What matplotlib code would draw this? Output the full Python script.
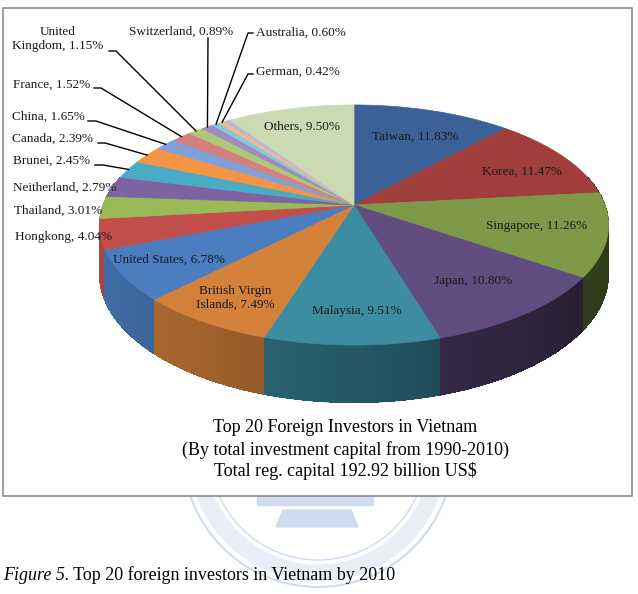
import numpy as np
import matplotlib
matplotlib.use("Agg")
import matplotlib.pyplot as plt
from matplotlib.patches import Polygon, Rectangle, Circle
from matplotlib.collections import PolyCollection

plt.rcParams['font.family'] = ['Liberation Serif', 'DejaVu Serif']

# data, clockwise from 12 o'clock
countries = ["Taiwan", "Korea", "Singapore", "Japan", "Malaysia",
             "British Virgin Islands", "United States", "Hongkong", "Thailand",
             "Neitherland", "Brunei", "Canada", "China", "France",
             "United Kingdom", "Switzerland", "Australia", "German", "", "Others"]
shares = [11.83, 11.47, 11.26, 10.80, 9.51, 7.49, 6.78, 4.04, 3.01, 2.79,
          2.45, 2.39, 1.65, 1.52, 1.15, 0.89, 0.60, 0.42, 0.45, 9.50]
colors = ["#3c6198", "#a03e3c", "#7e9a48", "#614c80", "#3c8ca2", "#d4813c",
          "#4a7ec0", "#c24f4c", "#9aba58", "#7f63a1", "#4aabc5", "#f59445",
          "#7fa0d8", "#d4807e", "#aec87a", "#9d8cbc", "#84c8dc", "#f8b888",
          "#bdb6d8", "#ccdab4"]

title_lines = ["Top 20 Foreign Investors in Vietnam",
               "(By total investment capital from 1990-2010)",
               "Total reg. capital 192.92 billion US$"]
caption_lead = "Figure 5."
caption_rest = " Top 20 foreign investors in Vietnam by 2010"

# ---- layout (pixels, y down) ----
W, H = 638, 594
CX, CY = 354, 205        # projected pie centre
AX, BY = 251, 116.7      # radii at centre depth
K = 1 / 6                # perspective strength
DEPTH = 48               # wall height

wrap = {"British Virgin Islands": "British Virgin\nIslands",
        "United Kingdom": "United\nKingdom"}
label_pos = {
    "Taiwan": (415, 137, "center"), "Korea": (522, 172, "center"),
    "Singapore": (537, 226, "center"), "Japan": (473, 281, "center"),
    "Malaysia": (357, 311, "center"), "British Virgin Islands": (235, 298, "center"),
    "United States": (169, 260, "center"), "Others": (302, 127, "center"),
    "Hongkong": (15, 237, "left"), "Thailand": (14, 211, "left"),
    "Neitherland": (13, 188, "left"), "Brunei": (13, 161, "left"),
    "Canada": (12, 139, "left"), "China": (12, 117, "left"),
    "France": (13, 85, "left"), "United Kingdom": (58, 39, "center"),
    "Switzerland": (129, 32, "left"), "Australia": (256, 33, "left"),
    "German": (256, 72, "left"),
}
# leader start point and elbow x
leaders = {
    "Brunei": (95, 165, 103), "Canada": (98, 143, 105), "China": (88, 121, 96),
    "France": (94, 88, 101), "United Kingdom": (109, 51, 116),
    "Switzerland": (208, 38, 208), "Australia": (253, 33, 248),
    "German": (253, 74, 248),
}


def project(theta, r=1.0, drop=0.0):
    u = r * np.sin(theta)
    v = r * np.cos(theta)
    w = 1 + K * v
    return CX + AX * u / w, CY - BY * v / w + drop / w


def shade(hex_color, f):
    rgb = np.array(matplotlib.colors.to_rgb(hex_color))
    return tuple(np.clip(rgb * f, 0, 1))


fig = plt.figure(figsize=(W / 100, H / 100), dpi=100)
ax = fig.add_axes([0, 0, 1, 1])
ax.set_xlim(0, W)
ax.set_ylim(H, 0)
ax.axis("off")

# faint watermark seal behind the caption
wm = "#cfdcef"
ax.add_patch(Circle((318, 452), 135, fill=False, ec=wm, lw=1.5, zorder=0))
ax.add_patch(Circle((318, 452), 108, fill=False, ec=wm, lw=1.0, zorder=0))
ax.add_patch(Circle((318, 452), 121, fill=False, ec="#e8eef8", lw=12, zorder=0))
ax.add_patch(Rectangle((257, 495), 116, 10, color=wm, zorder=0))
ax.add_patch(Polygon([(283, 510), (351, 510), (358, 527), (276, 527)], color=wm, zorder=0))

# chart frame
ax.add_patch(Rectangle((2.5, 7.5), 629.5, 488.5, fc="white", ec="#8a8a8a", lw=1.2, zorder=1))

fracs = np.array(shares) / 100.0
bounds = np.concatenate([[0], np.cumsum(fracs)]) * 2 * np.pi

# side walls: one smooth underlay per slice, then shaded strips on top
quads, qcols, qdepth = [], [], []
for i, col in enumerate(colors):
    t = np.linspace(bounds[i], bounds[i + 1], max(3, int((bounds[i + 1] - bounds[i]) / 0.01)))
    t = t[np.cos(t) < 0.25]
    if len(t) < 2:
        continue
    top = [project(a) for a in t]
    bot = [project(a, drop=DEPTH) for a in t[::-1]]
    mid = t.mean()
    under = shade(col, 0.62 - 0.26 * np.sin(mid))
    ax.add_patch(Polygon(top + bot, closed=True, fc=under, ec=under, lw=0.5,
                         zorder=2 - 0.5 * np.cos(mid) * 0.01))
    for a, b in zip(t[:-1], t[1:]):
        m = (a + b) / 2
        xa, ya = project(a)
        xb, yb = project(b)
        xa2, ya2 = project(a, drop=DEPTH)
        xb2, yb2 = project(b, drop=DEPTH)
        quads.append([(xa, ya), (xb, yb), (xb2, yb2), (xa2, ya2)])
        qcols.append(shade(col, 0.62 - 0.26 * np.sin(m)))
        qdepth.append(np.cos(m))
order = np.argsort(qdepth)[::-1]
ax.add_collection(PolyCollection([quads[j] for j in order],
                                 facecolors=[qcols[j] for j in order],
                                 edgecolors="none", linewidths=0,
                                 antialiased=False, zorder=2.1))

# top faces
for i, col in enumerate(colors):
    t = np.linspace(bounds[i], bounds[i + 1], max(3, int((bounds[i + 1] - bounds[i]) / 0.01)))
    pts = [(CX, CY)] + [project(a) for a in t]
    ax.add_patch(Polygon(pts, closed=True, fc=col, ec=col, lw=0.5, zorder=3))

# labels and leader lines
for i, name in enumerate(countries):
    if name not in label_pos:
        continue
    x, y, ha = label_pos[name]
    txt = f"{wrap.get(name, name)}, {shares[i]:.2f}%"
    ax.text(x, y, txt, ha=ha, va="center", fontsize=9.5, color="#1a1a1a",
            multialignment="center", zorder=5)
    if name in leaders:
        sx, sy, ex = leaders[name]
        mid = (bounds[i] + bounds[i + 1]) / 2
        px, py = project(mid)
        ax.plot([sx, ex, px], [sy, sy, py], color="black", lw=1.0, zorder=4)

# title inside frame
for line, ty in zip(title_lines, [427, 450, 471]):
    ax.text(345, ty, line, ha="center", va="center", fontsize=13, color="black", zorder=5)

# caption
t1 = ax.text(3, 575, caption_lead, ha="left", va="center", fontsize=13,
             style="italic", zorder=5)
fig.canvas.draw()
bb = t1.get_window_extent()
x_end = ax.transData.inverted().transform((bb.x1, bb.y0))[0]
ax.text(x_end, 575, caption_rest, ha="left", va="center", fontsize=13, zorder=5)

fig.savefig("out.png", dpi=100)
